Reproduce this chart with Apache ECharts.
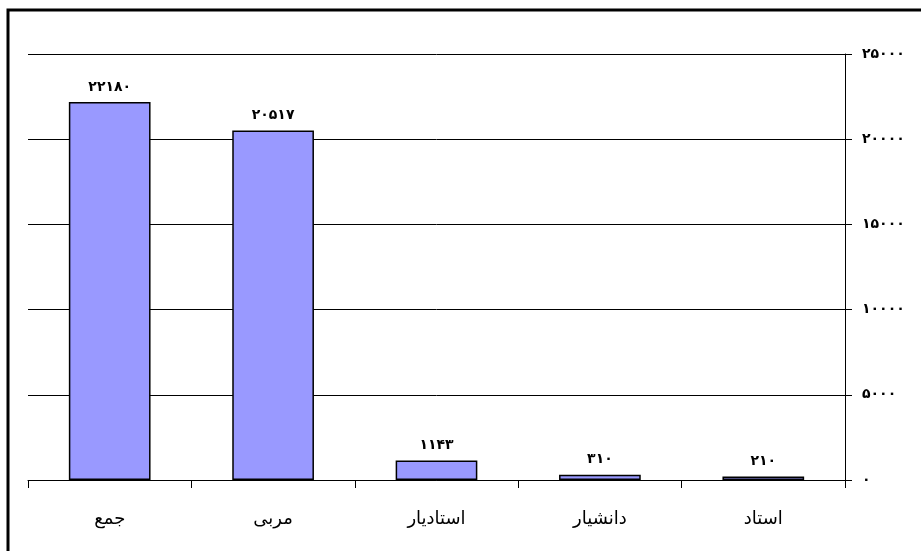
<!DOCTYPE html>
<html>
<head>
<meta charset="utf-8">
<script src="https://cdn.jsdelivr.net/npm/echarts@6/dist/echarts.min.js"></script>
<style>
    html, body { margin: 0; padding: 0; background: #fff; }
    #chart { width: 921px; height: 551px; }
</style>
</head>
<body>
<div id="chart"></div>
<script>
    var categories = ['جمع', 'مربی', 'استادیار', 'دانشیار', 'استاد'];
    var values = [22180, 20517, 1143, 310, 210];
    var yTicks = [0, 5000, 10000, 15000, 20000, 25000];

    function toPersian(n) {
        var digits = '۰۱۲۳۴۵۶۷۸۹';
        return String(n).replace(/[0-9]/g, function (d) {
            return digits[+d];
        });
    }

    var chart = echarts.init(document.getElementById('chart'));
    var option = {
        animation: false,
        backgroundColor: '#fff',
        graphic: [{
            type: 'rect',
            shape: {x: 8, y: 10, width: 1000, height: 1000},
            style: {fill: 'none', stroke: '#000', lineWidth: 3}
        }],
        grid: {left: 28, right: 76, top: 54, bottom: 71},
        xAxis: {
            type: 'category',
            data: categories,
            axisLine: {lineStyle: {color: '#000', width: 1}},
            axisTick: {show: true, length: 8, lineStyle: {color: '#000'}},
            axisLabel: {
                color: '#000',
                fontSize: 18,
                fontFamily: 'DejaVu Sans, sans-serif',
                margin: 30
            }
        },
        yAxis: {
            type: 'value',
            position: 'right',
            min: yTicks[0],
            max: yTicks[yTicks.length - 1],
            interval: 5000,
            axisLine: {show: true, lineStyle: {color: '#000', width: 1}},
            axisTick: {show: true, inside: false, length: 7, lineStyle: {color: '#000'}},
            splitLine: {show: true, lineStyle: {color: '#000', width: 1}},
            axisLabel: {
                color: '#000',
                fontSize: 14,
                fontWeight: 'bold',
                fontFamily: 'DejaVu Sans, sans-serif',
                margin: 17,
                formatter: function (v) { return toPersian(v); }
            }
        },
        series: [{
            type: 'bar',
            data: values,
            barWidth: '50%',
            itemStyle: {color: '#9999ff', borderColor: '#000', borderWidth: 1.5},
            label: {
                show: true,
                position: 'top',
                distance: 8,
                color: '#000',
                fontSize: 14,
                fontWeight: 'bold',
                fontFamily: 'DejaVu Sans, sans-serif',
                formatter: function (p) { return toPersian(p.value); }
            }
        }]
    };
    chart.setOption(option);
</script>
</body>
</html>
